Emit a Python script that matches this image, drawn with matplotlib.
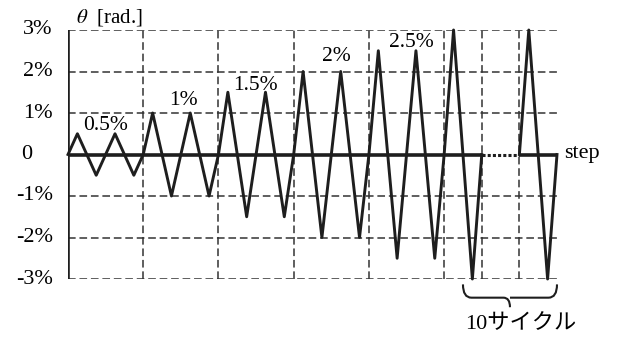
import numpy as np
import matplotlib
matplotlib.use('Agg')
import matplotlib.pyplot as plt
from matplotlib.path import Path
from matplotlib.patches import PathPatch

plt.rcParams['font.family'] = ['Liberation Serif', 'Noto Sans CJK JP']
plt.rcParams['mathtext.fontset'] = 'stix'

# loading protocol data (drift amplitude in %, one entry per cycle)
amplitudes = [0.5, 0.5, 1.0, 1.0, 1.5, 1.5, 2.0, 2.0, 2.5, 2.5, 3.0]
final_amplitudes = [3.0]
level_labels = ['0.5%', '1%', '1.5%', '2%', '2.5%']
level_values = [0.5, 1.0, 1.5, 2.0, 2.5]
ytick_values = [3, 2, 1, -1, -2, -3]
ytick_labels = ['3%', '2%', '1%', '-1%', '-2%', '-3%']
gap_steps = 4
cycle_steps = 4

# layout tweaks for the amplitude labels (step offset, drift offset)
label_dx = [0.0, 0.3, -0.1, 0.5, 0.5]
label_dy = [0.2, 0.3, 0.16, 0.36, 0.2]


def cycle_points(x0, a):
    return [x0 + 1, x0 + 3, x0 + 4], [a, -a, 0.0]


# build waveform
xs, ys = [0.0], [0.0]
x0 = 0
for a in amplitudes:
    px, py = cycle_points(x0, a)
    xs += px
    ys += py
    x0 += cycle_steps
gap_start = x0
gap_end = x0 + gap_steps
xs2, ys2 = [gap_end], [0.0]
x1 = gap_end
for a in final_amplitudes:
    px, py = cycle_points(x1, a)
    xs2 += px
    ys2 += py
    x1 += cycle_steps
x_end = x1

fig = plt.figure(figsize=(6.19, 3.41), dpi=100)
ax = fig.add_axes([68 / 619, 1 - 279 / 341, (557 - 68) / 619, (279 - 30) / 341])
ax.set_xlim(0, x_end)
ax.set_ylim(-3, 3)
for s in ax.spines.values():
    s.set_visible(False)
ax.set_xticks([])
ax.set_yticks([])

dash = (0, (5, 2.5))
gc = '#333333'
# horizontal grid
ax.hlines(ytick_values, 0, x_end + 0.4, colors=gc, linestyles=dash, lw=1.1, zorder=1)
# vertical grid
vgrid = list(range(2 * cycle_steps, gap_start, 2 * cycle_steps)) + [gap_start, gap_end]
ax.vlines(vgrid, -3, 3, colors=gc, linestyles=dash, lw=1.1, zorder=1)

# axes lines
ax.plot([0, 0], [-3, 3], color='#1e1e1e', lw=2.6, solid_capstyle='butt', zorder=3)
ax.plot([0, gap_start], [0, 0], color='#1e1e1e', lw=2.6, solid_capstyle='butt', zorder=3)
ax.plot([gap_start, gap_end], [0, 0], color='#1e1e1e', lw=2.2, ls=(0, (1, 0.7)), zorder=3)
ax.plot([gap_end, x_end], [0, 0], color='#1e1e1e', lw=2.6, solid_capstyle='butt', zorder=3)

# waveform
ax.plot(xs, ys, color='#1e1e1e', lw=2.1, zorder=4, clip_on=False)
ax.plot(xs2, ys2, color='#1e1e1e', lw=2.1, zorder=4, clip_on=False)

# y tick labels
for v, lab in zip(ytick_values, ytick_labels):
    ax.annotate(lab, (0, v), xytext=(-11, 0), textcoords='offset points',
                ha='right', va='center', fontsize=16, annotation_clip=False)
ax.annotate('0', (0, 0), xytext=(-30, 0), textcoords='offset points',
            ha='center', va='center', fontsize=16, annotation_clip=False)

# axis names
ax.text(0.8, 3.3, r'$\theta$  [rad.]', fontsize=15, ha='left', va='center')
ax.annotate('step', (x_end, 0), xytext=(5, 1), textcoords='offset points',
            ha='left', va='center', fontsize=16, annotation_clip=False)

# amplitude labels
for k, (lab, v) in enumerate(zip(level_labels, level_values)):
    ax.text(2 * cycle_steps * k + cycle_steps + label_dx[k], v + label_dy[k], lab,
            fontsize=15.5, ha='center', va='center')

# brace under the repeated cycles
bx0, bx1 = gap_start - 2, x_end
bc = (bx0 + bx1) / 2
ytop, ymid, ybot = -3.13, -3.45, -3.68
verts = [(bx0, ytop), (bx0, ymid), (bx0 + 0.9, ymid),
         (bc - 0.7, ymid),
         (bc, ymid), (bc, ybot),
         (bc, ymid), (bc + 0.7, ymid),
         (bx1 - 0.9, ymid),
         (bx1, ymid), (bx1, ytop)]
codes = [Path.MOVETO, Path.CURVE3, Path.CURVE3,
         Path.LINETO,
         Path.CURVE3, Path.CURVE3,
         Path.MOVETO, Path.LINETO,
         Path.LINETO,
         Path.CURVE3, Path.CURVE3]
ax.add_patch(PathPatch(Path(verts, codes), fill=False, lw=1.5, color='#1e1e1e', clip_on=False))
ax.text(bc + 1.1, -4.1, '10サイクル', fontsize=16, ha='center', va='center')

fig.savefig('out.png', dpi=100)
